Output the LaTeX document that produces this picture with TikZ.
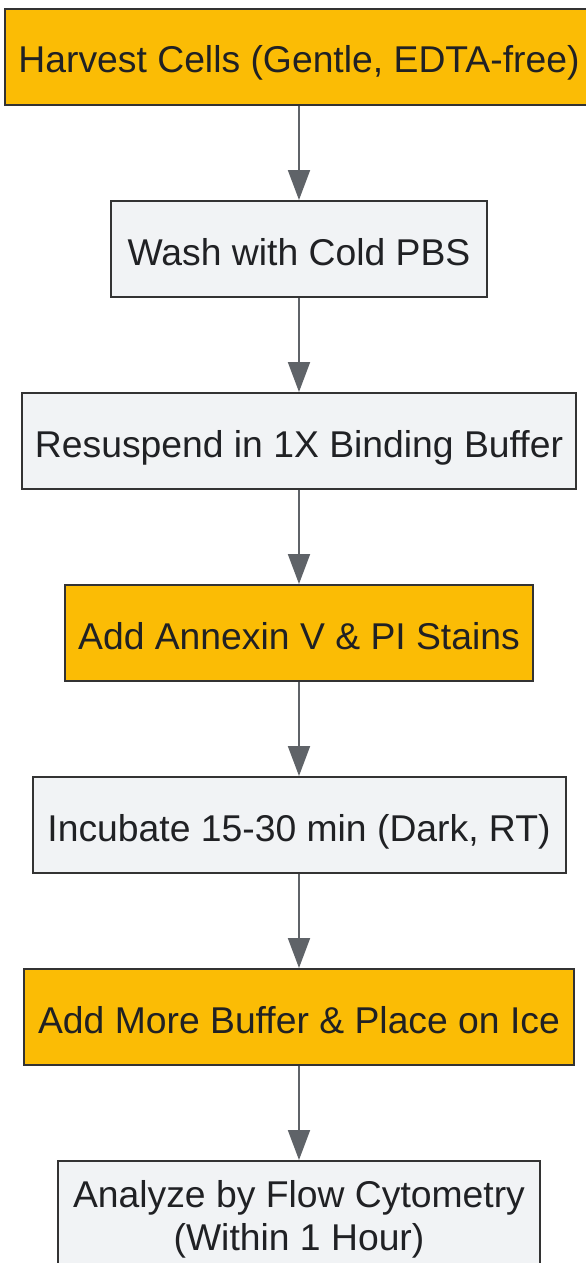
\documentclass[tikz,border=0pt]{standalone}
\usepackage{fontspec}
\setmainfont{Liberation Sans}
\usetikzlibrary{arrows.meta}
\definecolor{orangefill}{HTML}{FBBC05}
\definecolor{greyfill}{HTML}{F1F3F5}
\definecolor{boxborder}{HTML}{333333}
\definecolor{arrowcol}{HTML}{5F6368}
\definecolor{textcol}{HTML}{202124}
\tikzset{
  stepbox/.style={draw=boxborder, line width=2pt, rectangle, inner sep=0pt,
    minimum height=96pt, text=textcol, align=center,
    text height=32pt, text depth=0pt,
    font=\fontsize{37.3}{43}\selectfont},
  orangebox/.style={stepbox, fill=orangefill},
  greybox/.style={stepbox, fill=greyfill},
  flow/.style={draw=arrowcol, line width=2pt, -{Triangle[width=22pt,length=30pt]}}
}
\begin{document}
\begin{tikzpicture}[x=1pt,y=-1pt]
\useasboundingbox (0,0) rectangle (586,1263);
\clip (0,0) rectangle (586,1263);
\node[orangebox, minimum width=588pt] (n1) at (299,57) {Harvest Cells (Gentle, EDTA-free)};
\node[greybox, minimum width=376pt] (n2) at (299,249) {Wash with Cold PBS};
\node[greybox, minimum width=554pt] (n3) at (299,441) {Resuspend in 1X Binding Buffer};
\node[orangebox, minimum width=468pt] (n4) at (299,633) {Add Annexin V \& PI Stains};
\node[greybox, minimum width=533pt] (n5) at (299,825) {Incubate 15-30 min (Dark, RT)};
\node[orangebox, minimum width=550pt] (n6) at (299,1017) {Add More Buffer \& Place on Ice};
\node[greybox, minimum width=482pt, minimum height=138pt, text height=72pt, text depth=32pt] (n7) at (299,1230) {Analyze by Flow Cytometry\\(Within 1 Hour)};
\draw[flow] (n1.south) -- (n2.north);
\draw[flow] (n2.south) -- (n3.north);
\draw[flow] (n3.south) -- (n4.north);
\draw[flow] (n4.south) -- (n5.north);
\draw[flow] (n5.south) -- (n6.north);
\draw[flow] (n6.south) -- (n7.north);
\end{tikzpicture}
\end{document}
